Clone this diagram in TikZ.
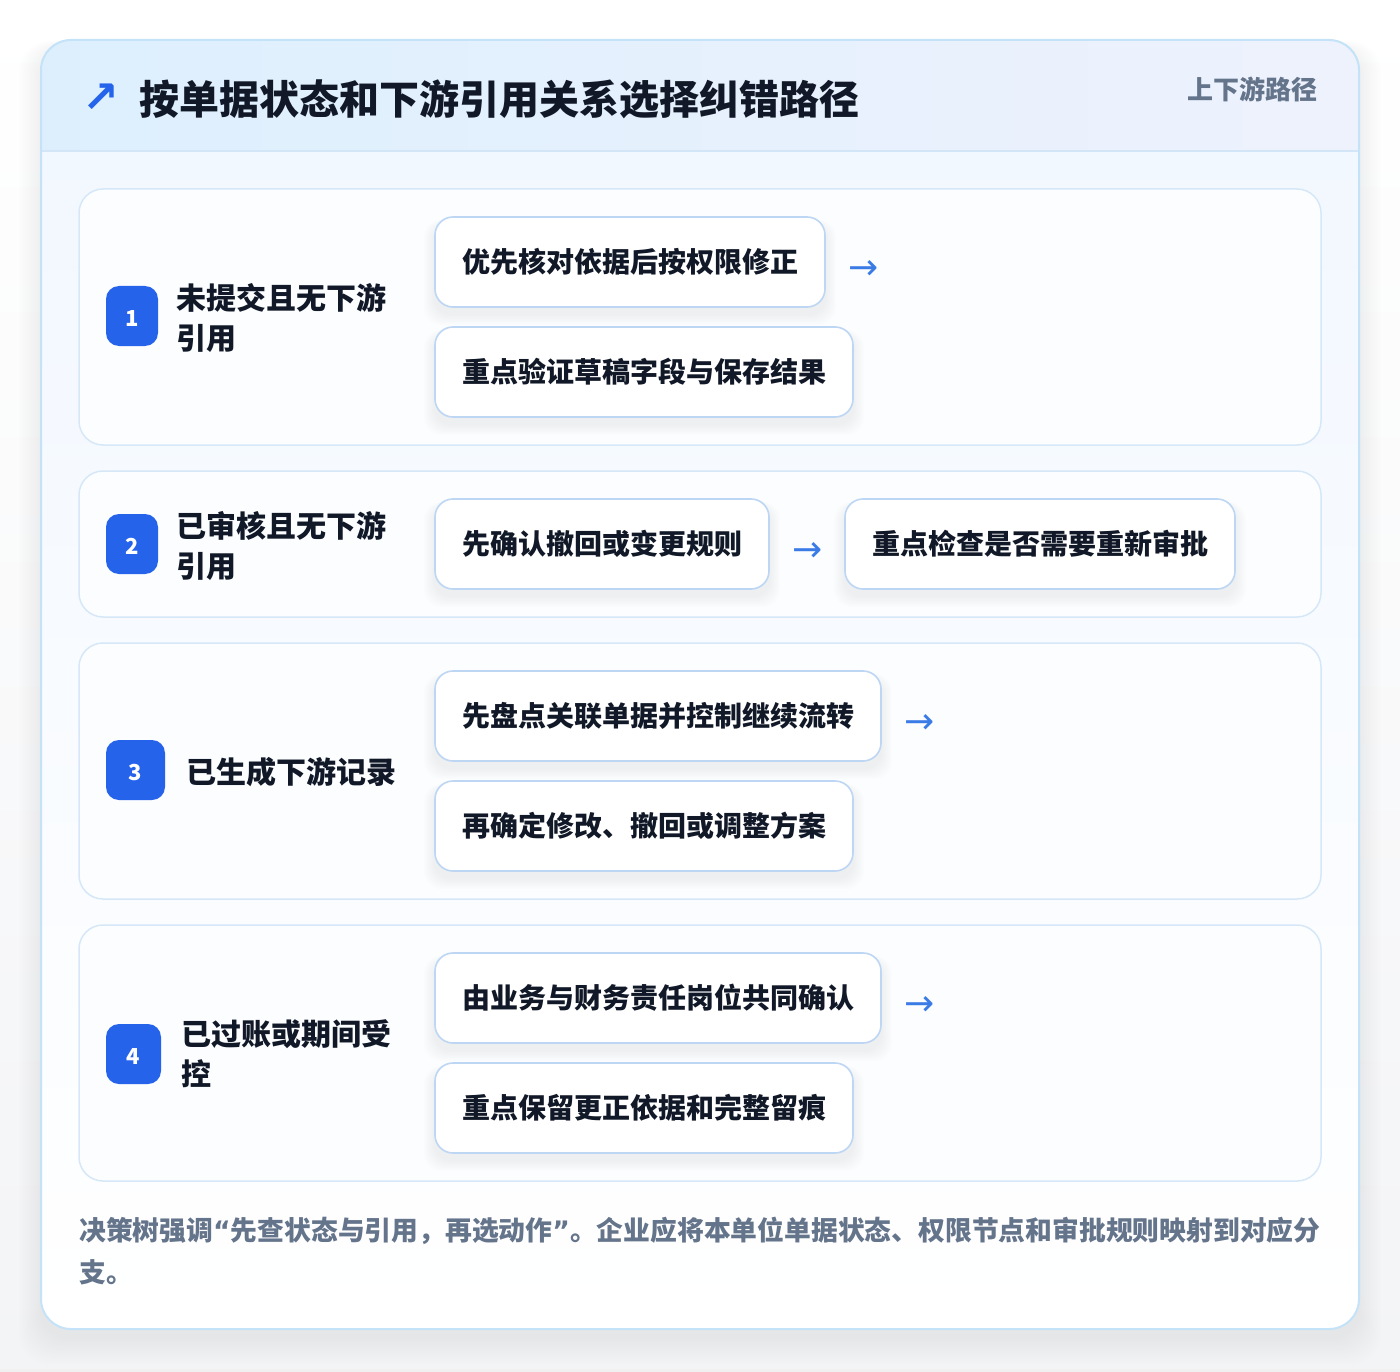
\documentclass[tikz,border=0pt]{standalone}
\usepackage{fontspec}
\setmainfont{Noto Sans CJK SC}
\newfontfamily\dejavu{DejaVu Sans}
\definecolor{ink}{HTML}{111827}
\definecolor{muted}{HTML}{64748B}
\definecolor{badgeblue}{HTML}{2563EB}
\definecolor{arrowblue}{HTML}{3B7BE6}
\definecolor{cardline}{HTML}{C4E2F8}
\definecolor{hdrL}{HTML}{DDEFFD}
\definecolor{hdrR}{HTML}{EEF2FD}
\definecolor{hdrline}{HTML}{D3E6F8}
\definecolor{cardtop}{HTML}{F1F7FF}
\definecolor{rowline}{HTML}{D6E8F8}
\definecolor{rowfill}{HTML}{FBFDFF}
\definecolor{pillline}{HTML}{BDD6F4}
\definecolor{pagebot}{HTML}{F3F4F6}
\newcommand{\pillshadow}[3]{%
  \foreach \k in {1,...,7}{%
    \fill[black,opacity=0.007,rounded corners=18pt]
      ({#1-#3/2-\k*1.6},{#2-45-\k*0.6+7}) rectangle ({#1+#3/2+\k*1.6},{#2+45+\k*1.6+7});
  }}
\newcommand{\nq}[1]{{\dejavu #1}}
\newcommand{\dg}[1]{\raisebox{-2.5pt}[\height][0pt]{#1}}
\tikzset{
  rowcard/.style={draw=rowline,fill=rowfill,line width=1.5pt,rounded corners=24pt,inner sep=0pt,outer sep=0pt},
  pill/.style={draw=pillline,fill=white,line width=1.6pt,rounded corners=18pt,minimum height=90pt,inner sep=0pt,outer sep=0pt,text=ink,font=\fontsize{28}{34}\selectfont\bfseries},
  badge/.style={fill=badgeblue,rounded corners=13pt,minimum height=60pt,inner sep=0pt,outer sep=0pt,text=white,font=\fontsize{22}{26}\selectfont\bfseries},
  lbl/.style={anchor=west,align=left,text=ink,inner sep=0pt,font=\fontsize{30}{40}\selectfont\bfseries},
  arr/.style={text=arrowblue,inner sep=0pt,font=\dejavu\fontsize{36}{40}\selectfont},
}
\begin{document}
\begin{tikzpicture}[x=1pt,y=-1pt]
\useasboundingbox (0,0) rectangle (1400,1372);
\shade[top color=white,bottom color=pagebot] (0,0) rectangle (1400,1372);
\fill[black!6] (0,1369) rectangle (1400,1372);
% outer card shadow
\foreach \k in {1,...,14}{
  \fill[black,opacity=0.005,rounded corners=30pt] ({41-\k*1.6},{40-\k*0.5+8}) rectangle ({1359+\k*1.6},{1329+\k*2+8});
}
\begin{scope}
  \clip[rounded corners=30pt] (41,40) rectangle (1359,1329);
  \shade[top color=cardtop,bottom color=white] (41,40) rectangle (1359,1329);
  \shade[left color=hdrL,right color=hdrR] (41,40) rectangle (1359,151);
  \draw[hdrline,line width=1.5pt] (41,151) -- (1359,151);
\end{scope}
\node[draw=cardline,line width=2pt,rounded corners=30pt,minimum width=1318pt,minimum height=1289pt,inner sep=0pt,outer sep=0pt] (card) at (700,684.5) {};
% header
\node[text=badgeblue,inner sep=0pt,font=\dejavu\fontsize{44}{48}\selectfont\bfseries] (icon) at (101,98) {↗};
\node[anchor=west,text=ink,inner sep=0pt,font=\fontsize{40}{48}\selectfont\bfseries] (title) at (139,99) {按单据状态和下游引用关系选择纠错路径};
\node[anchor=east,text=muted,inner sep=0pt,font=\fontsize{26}{30}\selectfont\bfseries] (tag) at (1318,89) {上下游路径};
% row cards
\node[rowcard,minimum width=1242pt,minimum height=256pt] (r1) at (700,317) {};
\node[rowcard,minimum width=1242pt,minimum height=146pt] (r2) at (700,544) {};
\node[rowcard,minimum width=1242pt,minimum height=256pt] (r3) at (700,771) {};
\node[rowcard,minimum width=1242pt,minimum height=256pt] (r4) at (700,1053) {};
% badges
\node[badge,minimum width=52pt] (b1) at (132,316) {\dg{1}};
\node[badge,minimum width=52pt] (b2) at (132,544) {\dg{2}};
\node[badge,minimum width=59pt] (b3) at (135.5,770) {\dg{3}};
\node[badge,minimum width=55pt] (b4) at (133.5,1054) {\dg{4}};
% labels
\node[lbl] (l1) at (176,318) {未提交且无下游\\引用};
\node[lbl] (l2) at (176,546) {已审核且无下游\\引用};
\node[lbl] (l3) at (186,772) {已生成下游记录};
\node[lbl] (l4) at (181,1054) {已过账或期间受\\控};
% pill shadows
\pillshadow{630}{262}{390}
\pillshadow{644}{372}{418}
\pillshadow{602}{544}{334}
\pillshadow{1040}{544}{390}
\pillshadow{658}{716}{446}
\pillshadow{644}{826}{418}
\pillshadow{658}{998}{446}
\pillshadow{644}{1108}{418}
% pills
\node[pill,minimum width=390pt] (p11) at (630,262) {优先核对依据后按权限修正};
\node[pill,minimum width=418pt] (p12) at (644,372) {重点验证草稿字段与保存结果};
\node[pill,minimum width=334pt] (p21) at (602,544) {先确认撤回或变更规则};
\node[pill,minimum width=390pt] (p22) at (1040,544) {重点检查是否需要重新审批};
\node[pill,minimum width=446pt] (p31) at (658,716) {先盘点关联单据并控制继续流转};
\node[pill,minimum width=418pt] (p32) at (644,826) {再确定修改、撤回或调整方案};
\node[pill,minimum width=446pt] (p41) at (658,998) {由业务与财务责任岗位共同确认};
\node[pill,minimum width=418pt] (p42) at (644,1108) {重点保留更正依据和完整留痕};
% arrows
\node[arr] (a1) at (864,270) {→};
\node[arr] (a2) at (808,552) {→};
\node[arr] (a3) at (920,724) {→};
\node[arr] (a4) at (920,1006) {→};
% footer note
\node[anchor=north west,align=left,text=muted,inner sep=0pt,font=\fontsize{26.8}{42}\selectfont\bfseries] (note) at (79,1217) {决策树强调\nq{“}先查状态与引用，再选动作\nq{”}。企业应将本单位单据状态、权限节点和审批规则映射到对应分\\支。};
\end{tikzpicture}
\end{document}
